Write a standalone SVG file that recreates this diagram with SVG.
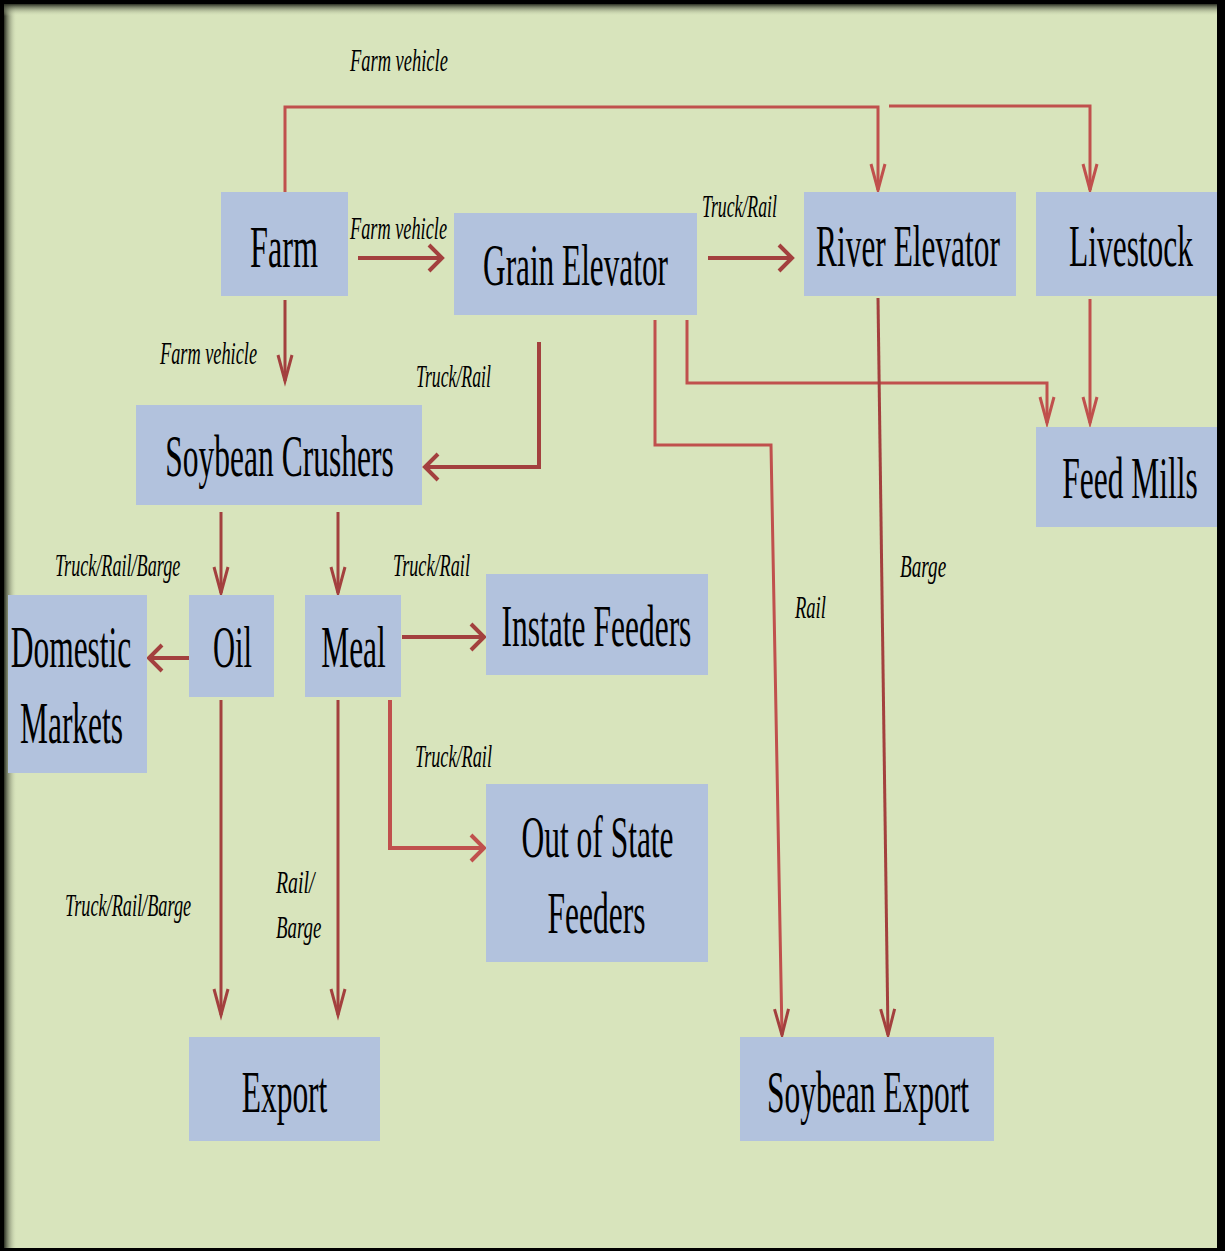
<svg xmlns="http://www.w3.org/2000/svg" width="1225" height="1251" viewBox="0 0 1225 1251">
<style>
.box{fill:#B2C2DD}
.t{font-family:"Liberation Serif","Times New Roman",serif;font-size:60px;fill:#000;text-anchor:middle}
.l{font-family:"Liberation Serif","Times New Roman",serif;font-style:italic;font-size:32px;fill:#000}
.c1{fill:none;stroke:#C0504D;stroke-width:3}
.c2{fill:none;stroke:#A3403E;stroke-width:3}
.hz{stroke-width:4}
</style>
<defs>
<linearGradient id="shL" x1="0" y1="0" x2="1" y2="0">
<stop offset="0" stop-color="#2a2e22"/><stop offset="1" stop-color="#D8E4BC" stop-opacity="0"/>
</linearGradient>
<linearGradient id="shT" x1="0" y1="0" x2="0" y2="1">
<stop offset="0" stop-color="#2a2e22"/><stop offset="1" stop-color="#D8E4BC" stop-opacity="0"/>
</linearGradient>
<marker id="v1" markerUnits="userSpaceOnUse" markerWidth="30" markerHeight="20" refX="26" refY="8" orient="auto" overflow="visible">
<path d="M0,1 L26,8 L0,15" fill="none" stroke="#C0504D" stroke-width="3"/>
</marker>
<marker id="v2" markerUnits="userSpaceOnUse" markerWidth="30" markerHeight="20" refX="26" refY="8" orient="auto" overflow="visible">
<path d="M0,1 L26,8 L0,15" fill="none" stroke="#A3403E" stroke-width="3"/>
</marker>
<marker id="h1" markerUnits="userSpaceOnUse" markerWidth="20" markerHeight="30" refX="13" refY="14" orient="auto" overflow="visible">
<path d="M0,1 L13,14 L0,27" fill="none" stroke="#C0504D" stroke-width="4"/>
</marker>
<marker id="h2" markerUnits="userSpaceOnUse" markerWidth="20" markerHeight="30" refX="13" refY="14" orient="auto" overflow="visible">
<path d="M0,1 L13,14 L0,27" fill="none" stroke="#A3403E" stroke-width="4"/>
</marker>
</defs>

<rect x="0" y="0" width="1225" height="1251" fill="#000"/>
<rect x="4" y="4" width="1213" height="1244" fill="#D8E4BC"/>
<rect x="4" y="4" width="13" height="1244" fill="url(#shL)"/>
<rect x="4" y="4" width="1213" height="12" fill="url(#shT)"/>

<g id="connectors">
<path class="c1" d="M285,192 V107 H878 V190" marker-end="url(#v1)"/>
<path class="c1" d="M889,106 H1090 V190" marker-end="url(#v1)"/>
<path class="c2 hz" d="M358,258 H442" marker-end="url(#h2)"/>
<path class="c2 hz" d="M708,258 H792" marker-end="url(#h2)"/>
<path class="c2" d="M285,300 V381" marker-end="url(#v2)"/>
<path class="c2 hz" d="M539,342 V467 H425" marker-end="url(#h2)"/>
<path class="c1" d="M655,320 V445 H771 L782,1035" marker-end="url(#v2)"/>
<path class="c1" d="M687,320 V383 H1047 V423" marker-end="url(#v1)"/>
<path class="c2" d="M878,298 L888,1035" marker-end="url(#v2)"/>
<path class="c1" d="M1090,299 V423" marker-end="url(#v1)"/>
<path class="c2" d="M221,512 V593" marker-end="url(#v2)"/>
<path class="c2" d="M338,512 V593" marker-end="url(#v2)"/>
<path class="c2 hz" d="M189,658 H149" marker-end="url(#h2)"/>
<path class="c2 hz" d="M402,637 H484" marker-end="url(#h2)"/>
<path class="c2" d="M221,700 V1015" marker-end="url(#v2)"/>
<path class="c2" d="M338,700 V1015" marker-end="url(#v2)"/>
<path class="c1 hz" d="M390,700 V848 H484" marker-end="url(#h1)"/>
</g>

<g id="labels">
<text class="l" transform="translate(350,71) scale(.577,1)">Farm vehicle</text>
<text class="l" transform="translate(350,239) scale(.572,1)">Farm vehicle</text>
<text class="l" transform="translate(702,217) scale(.555,1)">Truck/Rail</text>
<text class="l" transform="translate(160,364) scale(.572,1)">Farm vehicle</text>
<text class="l" transform="translate(416,387) scale(.555,1)">Truck/Rail</text>
<text class="l" transform="translate(55,576) scale(.567,1)">Truck/Rail/Barge</text>
<text class="l" transform="translate(393,576) scale(.57,1)">Truck/Rail</text>
<text class="l" transform="translate(415,767) scale(.57,1)">Truck/Rail</text>
<text class="l" transform="translate(795,618) scale(.58,1)">Rail</text>
<text class="l" transform="translate(900,577) scale(.6,1)">Barge</text>
<text class="l" transform="translate(65,916) scale(.571,1)">Truck/Rail/Barge</text>
<text class="l" transform="translate(276,893) scale(.62,1)">Rail/</text>
<text class="l" transform="translate(276,938) scale(.59,1)">Barge</text>
</g>

<g id="farm"><rect class="box" x="221" y="192" width="127" height="104"/><text class="t" transform="translate(284,267) scale(.537,1)">Farm</text></g>
<g id="grain-elevator"><rect class="box" x="454" y="213" width="243" height="102"/><text class="t" transform="translate(575.5,285) scale(.521,1)">Grain Elevator</text></g>
<g id="river-elevator"><rect class="box" x="804" y="192" width="212" height="104"/><text class="t" transform="translate(908,266) scale(.523,1)">River Elevator</text></g>
<g id="livestock"><rect class="box" x="1036" y="192" width="181" height="104"/><text class="t" transform="translate(1131,266) scale(.524,1)">Livestock</text></g>
<g id="feed-mills"><rect class="box" x="1036" y="427" width="181" height="100"/><text class="t" transform="translate(1130,498) scale(.525,1)">Feed Mills</text></g>
<g id="soybean-crushers"><rect class="box" x="136" y="405" width="286" height="100"/><text class="t" transform="translate(279.5,476) scale(.525,1)">Soybean Crushers</text></g>
<g id="domestic-markets"><rect class="box" x="8" y="595" width="139" height="178"/><text class="t" transform="translate(71,667) scale(.525,1)">Domestic</text><text class="t" transform="translate(71.5,743) scale(.525,1)">Markets</text></g>
<g id="oil"><rect class="box" x="189" y="595" width="85" height="102"/><text class="t" transform="translate(232.5,667) scale(.51,1)">Oil</text></g>
<g id="meal"><rect class="box" x="305" y="595" width="96" height="102"/><text class="t" transform="translate(353.5,667) scale(.525,1)">Meal</text></g>
<g id="instate-feeders"><rect class="box" x="486" y="574" width="222" height="101"/><text class="t" transform="translate(596.5,646) scale(.525,1)">Instate Feeders</text></g>
<g id="out-of-state-feeders"><rect class="box" x="486" y="784" width="222" height="178"/><text class="t" transform="translate(597.5,857) scale(.525,1)">Out of State</text><text class="t" transform="translate(596.5,933) scale(.525,1)">Feeders</text></g>
<g id="export"><rect class="box" x="189" y="1037" width="191" height="104"/><text class="t" transform="translate(284.5,1112) scale(.525,1)">Export</text></g>
<g id="soybean-export"><rect class="box" x="740" y="1037" width="254" height="104"/><text class="t" transform="translate(868,1112) scale(.525,1)">Soybean Export</text></g>
</svg>
